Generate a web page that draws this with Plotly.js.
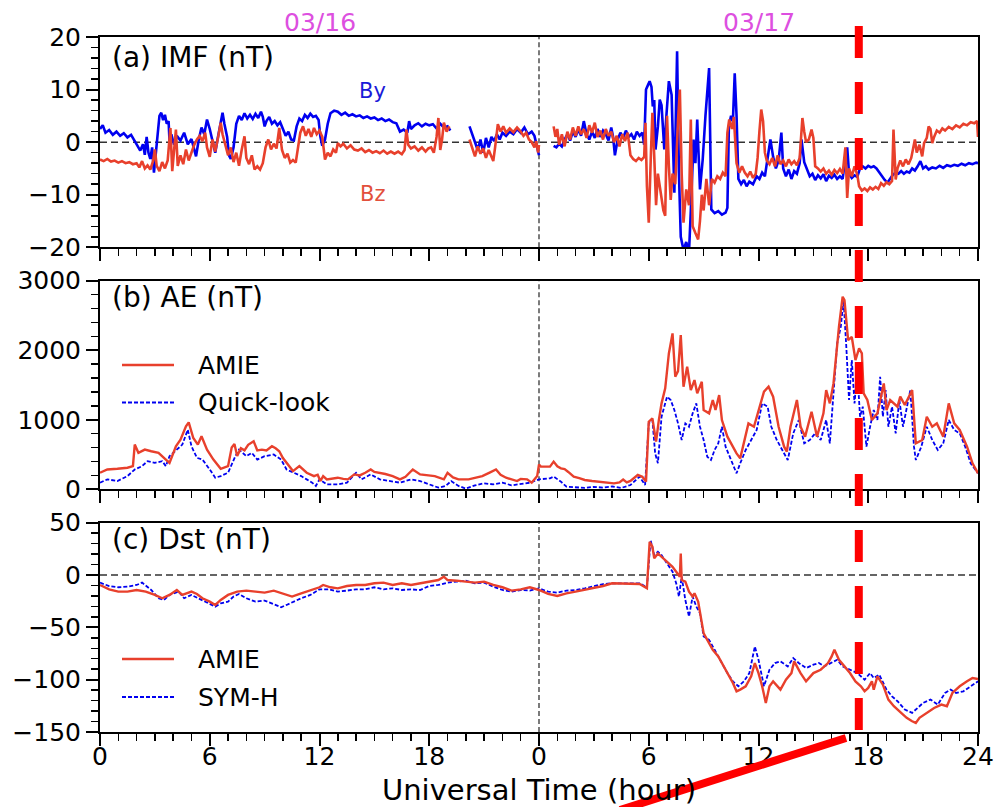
<!DOCTYPE html>
<html>
<head>
<meta charset="utf-8">
<script src="https://cdn.plot.ly/plotly-3.0.1.min.js"></script>
<style>html,body{margin:0;padding:0;background:#fff;}#chart{width:999px;height:807px;}</style>
</head>
<body>
<div id="chart"></div>
<script>
// ---------- tick labels ----------
const xTickVals = [0, 6, 12, 18, 24, 30, 36, 42, 48];
const xTickText = ['0', '6', '12', '18', '0', '6', '12', '18', '24'];
const dayLabels = ['03/16', '03/17'];
const dayLabelHours = [12, 36];

// ---------- (a) IMF By (hours from 03/16 00 UT) ----------
const byT = [0,0.15,0.3,0.5,0.7,0.9,1.1,1.3,1.5,1.7,1.9,2.05,2.2,2.35,2.45,2.55,2.65,2.75,2.85,2.95,3.05,3.15,3.25,3.35,3.45,3.55,3.65,3.75,3.8,3.9,4.05,4.2,4.4,4.6,4.8,5.0,5.15,5.25,5.4,5.55,5.7,5.85,6.0,6.15,6.3,6.45,6.6,6.7,6.8,6.95,7.05,7.15,7.3,7.45,7.6,7.75,7.9,8.05,8.2,8.35,8.5,8.65,8.8,8.9,9.0,9.1,9.25,9.4,9.55,9.7,9.85,10.0,10.15,10.3,10.45,10.6,10.75,10.9,11.05,11.2,11.35,11.5,11.65,11.8,11.95,12.05,12.15,12.3,12.45,12.6,12.8,13.0,13.2,13.4,13.6,13.8,14.0,14.2,14.4,14.6,14.8,15.0,15.2,15.4,15.6,15.8,16.0,16.2,16.4,16.6,16.8,16.9,17.0,17.2,17.4,17.6,17.8,18.0,18.2,18.4,18.6,18.8,19.0,19.15,19.6,
 20.2,20.35,20.5,20.65,20.8,20.95,21.1,21.25,21.4,21.55,21.7,21.85,22.0,22.2,22.4,22.6,22.8,23.0,23.2,23.4,23.6,23.75,23.9,24.0,24.4,
 24.8,24.95,25.1,25.25,25.4,25.55,25.7,25.85,26.0,26.15,26.3,26.45,26.6,26.75,26.9,27.05,27.2,27.35,27.5,27.65,27.8,27.95,28.05,28.15,28.3,28.45,28.6,28.75,28.9,29.05,29.2,29.35,29.5,29.65,29.75,29.85,29.95,30.05,30.15,30.22,30.3,30.37,30.5,30.6,30.7,30.85,30.95,31.1,31.25,31.4,31.55,31.65,31.75,31.9,32.05,32.2,32.3,32.45,32.55,32.65,32.8,32.95,33.1,33.3,33.42,33.6,33.8,34.0,34.2,34.3,34.38,34.5,34.6,34.7,34.8,34.9,35.05,35.2,35.35,35.5,35.7,35.9,36.05,36.2,36.35,36.5,36.65,36.8,36.95,37.1,37.25,37.35,37.5,37.65,37.8,37.95,38.1,38.25,38.35,38.5,38.65,38.8,38.95,39.1,39.25,39.4,39.55,39.7,39.85,40.0,40.15,40.3,40.45,40.6,40.75,40.85,40.95,41.1,41.25,41.4,41.55,41.7,41.85,42.0,42.15,42.3,42.45,42.6,42.75,42.9,43.05,43.2,43.35,43.5,43.65,43.8,43.95,44.1,44.25,44.4,44.55,44.7,44.85,45.0,45.15,45.3,45.5,45.7,45.9,46.1,46.3,46.5,46.7,46.9,47.1,47.3,47.5,47.7,47.9,48.0];
const byV = [2.5,3.2,1.8,2.3,1.4,2.0,1.2,1.7,0.9,1.4,0.2,-0.6,-1.6,-0.4,-2.4,1.0,-2.0,-3.2,-1.0,-5.8,-2.5,2.0,5.0,5.6,4.2,5.2,3.5,4.0,0.2,1.5,-0.5,1.2,0.3,1.8,-0.4,0.6,-1.5,-2.7,0.5,2.8,1.5,4.3,2.5,0.0,-2.0,1.0,4.0,5.6,3.5,1.0,-2.5,-3.2,-1.0,3.5,5.0,4.2,5.5,4.5,5.2,4.4,5.4,4.6,5.8,4.8,3.0,4.0,4.8,3.5,4.0,3.2,3.8,2.5,1.2,2.0,0.5,0.3,3.0,4.5,4.0,5.2,4.6,5.4,4.8,5.0,4.2,1.0,-0.7,0.5,3.5,5.5,6.0,5.8,5.2,5.6,5.0,5.3,4.9,5.1,4.6,4.9,4.5,4.7,4.2,4.5,4.0,4.3,3.8,3.6,2.0,2.4,1.8,4.0,2.5,3.2,3.6,3.0,3.5,3.2,3.4,2.6,3.5,2.8,3.0,2.2,null,
 3.0,1.5,0.0,-1.5,0.5,-2.0,0.8,-1.0,1.0,0.2,1.5,0.5,1.8,1.2,2.0,1.5,2.5,1.8,2.8,1.5,2.0,1.2,-1.0,-2.5,null,
 -0.7,-1.0,-0.3,-0.8,0.5,1.5,0.3,2.0,1.0,2.4,1.2,4.0,1.5,0.5,2.0,0.8,2.5,1.0,2.2,1.5,0.3,2.8,1.0,-2.5,0.5,1.8,0.8,2.2,1.0,1.5,0.5,2.0,1.2,1.8,-0.5,10.0,10.8,11.6,10.5,6.8,8.0,-1.4,3.0,8.1,7.0,-1.4,4.3,11.6,9.0,-9.6,17.3,-5.9,-18,-20.5,-19,-21,-13,0.5,-4,4.3,-9,-3.3,5,14.1,-12.8,-13.5,-13.1,-13.8,-13.4,-12.5,3.0,5.0,4.0,13.1,5.0,-7.0,-8.0,-7.2,-8.4,-7.5,-8.0,-6.5,-7.0,-5.8,-6.5,-3.0,0.5,-2.8,-5.0,-3.5,1.8,-5.0,-6.5,-5.2,-7.0,-5.5,-6.0,-4.0,0.5,-3.8,-5.0,-6.5,-6.0,-7.2,-6.3,-6.9,-6.1,-7.4,-6.4,-6.8,-6.2,-7.0,-6.5,-7.0,-3.0,-1.0,-6.0,-6.8,-6.3,-6.6,-5.0,-4.6,-5.0,-4.5,-4.8,-4.6,-5.0,-5.8,-6.5,-7.2,-7.7,-7.0,-6.2,-5.8,-6.0,-5.5,-6.0,-5.6,-5.8,-5.0,-5.4,-4.6,-3.6,-5.0,-4.6,-5.2,-4.8,-5.0,-4.5,-4.9,-4.4,-4.6,-4.3,-4.5,-4.1,-4.4,-4.0,-4.2,-3.9,-4.0];

// ---------- (a) IMF Bz ----------
const bzT = [0,0.2,0.4,0.6,0.8,1.0,1.2,1.4,1.6,1.8,2.0,2.15,2.3,2.45,2.6,2.75,2.9,3.0,3.1,3.25,3.4,3.55,3.7,3.85,3.95,4.05,4.15,4.25,4.4,4.55,4.7,4.85,5.0,5.15,5.3,5.45,5.6,5.75,5.85,6.0,6.15,6.3,6.45,6.6,6.7,6.85,7.0,7.15,7.3,7.45,7.6,7.75,7.9,8.0,8.15,8.3,8.45,8.6,8.75,8.9,9.05,9.2,9.35,9.5,9.65,9.8,9.95,10.1,10.25,10.4,10.55,10.7,10.85,10.95,11.1,11.25,11.4,11.55,11.7,11.85,12.0,12.15,12.3,12.45,12.6,12.75,12.9,13.0,13.15,13.3,13.5,13.7,13.9,14.1,14.3,14.5,14.7,14.9,15.1,15.3,15.5,15.7,15.9,16.1,16.3,16.5,16.65,16.75,16.85,17.0,17.2,17.4,17.6,17.8,17.95,18.1,18.25,18.4,18.5,18.6,18.7,18.8,18.95,19.1,19.6,
 20.2,20.35,20.5,20.65,20.8,20.95,21.1,21.25,21.4,21.5,21.6,21.75,21.9,22.05,22.2,22.4,22.6,22.8,23.0,23.15,23.3,23.45,23.6,23.75,23.85,23.95,24.0,24.4,
 24.8,24.9,25.0,25.1,25.25,25.4,25.55,25.7,25.85,26.0,26.15,26.3,26.45,26.6,26.75,26.9,27.05,27.2,27.35,27.5,27.65,27.8,27.95,28.1,28.25,28.4,28.55,28.7,28.85,29.0,29.15,29.3,29.45,29.6,29.75,29.82,29.9,30.0,30.12,30.2,30.3,30.4,30.5,30.6,30.7,30.8,30.9,31.0,31.1,31.2,31.3,31.45,31.6,31.7,31.8,31.9,32.05,32.2,32.3,32.4,32.55,32.7,32.8,32.9,33.0,33.15,33.3,33.45,33.6,33.75,33.9,34.05,34.2,34.3,34.4,34.55,34.65,34.8,34.95,35.1,35.25,35.4,35.55,35.7,35.85,35.95,36.05,36.15,36.25,36.35,36.45,36.6,36.75,36.9,37.05,37.2,37.35,37.5,37.65,37.8,37.95,38.1,38.25,38.4,38.5,38.6,38.75,38.9,39.0,39.1,39.25,39.4,39.55,39.7,39.85,40.0,40.15,40.3,40.45,40.6,40.75,40.85,40.95,41.1,41.25,41.4,41.5,41.65,41.8,41.95,42.1,42.25,42.4,42.55,42.7,42.85,43.0,43.15,43.3,43.38,43.5,43.6,43.75,43.9,44.05,44.2,44.35,44.45,44.55,44.65,44.8,44.95,45.05,45.2,45.3,45.4,45.5,45.6,45.75,45.9,46.05,46.2,46.4,46.6,46.8,47.0,47.2,47.4,47.6,47.8,47.95,48.0];
const bzV = [-3.3,-3.6,-3.2,-3.7,-3.5,-3.9,-3.6,-4.0,-3.8,-4.2,-4.0,-4.8,-3.6,-5.0,-4.4,-5.2,-3.6,-1.4,-4.5,-5.5,-3.8,-5.0,-3.5,2.7,-5.5,-1.0,2.4,-4.5,-2.5,-4.2,-1.4,-3.5,-2.0,-0.5,0.5,1.2,0.2,1.8,-1.0,-2.8,0.5,-1.8,0.8,3.7,1.5,-0.5,-2.5,-1.0,-3.8,-2.0,-4.5,-1.4,1.1,-3.0,-4.2,-2.5,-5.2,-4.6,-5.2,-4.0,-1.0,0.5,-1.4,-0.3,-1.2,2.7,-1.5,-3.0,-2.2,-3.9,-3.4,-3.9,-0.5,1.8,3.0,1.2,2.5,1.0,2.7,1.5,2.2,1.0,-3.3,-2.0,-2.7,-1.4,-2.0,-0.2,-0.8,-0.3,-1.2,-0.6,-1.4,-1.6,-1.2,-1.9,-1.5,-2.0,-1.7,-2.1,-1.6,-2.2,-1.8,-2.2,-1.8,-2.3,-1.5,2.4,-0.5,-1.2,-0.8,-1.6,-1.0,-1.8,-1.2,-1.0,-2.0,1.0,4.6,-1.5,0.5,3.7,2.0,3.0,null,
 0.5,-1.0,-2.7,-0.8,-2.2,-1.2,-3.0,-1.5,-2.6,-3.6,-1.0,3.4,2.0,3.0,1.8,2.6,1.9,2.8,2.0,1.2,1.8,0.5,0.0,-1.0,0.2,-2.0,-0.5,null,
 3.0,1.0,2.5,-0.5,1.5,-0.8,2.0,0.5,2.8,1.2,3.0,1.5,2.5,0.8,3.2,1.8,3.7,1.0,2.2,0.5,2.5,1.2,2.0,0.0,1.2,-0.8,1.5,0.2,1.8,-2.5,-3.2,-3.6,-3.0,-3.4,-2.8,3.7,-8.4,-15.3,-2.0,5.6,-2.7,-12.0,-6.0,-8.4,-10.0,-13.0,-14.0,5.0,-4.6,-11.0,-6.0,-8.0,4.0,10.0,-6.0,-15.3,-9.0,-12.0,4.3,-16.0,-17.3,-18.5,-15.0,-10.0,-13.0,-7.0,-12.0,-7.0,-7.7,-6.5,-7.0,-5.8,-6.5,1.8,4.3,2.5,4.8,-4.0,-5.8,-4.6,-5.8,-6.5,-5.6,-6.8,-6.0,-3.0,2.0,6.2,4.0,-2.0,-3.5,-4.2,-3.0,-4.6,-2.5,-4.2,-3.5,-4.6,-3.3,-4.2,-3.6,-4.4,-3.0,4.6,2.0,0.0,0.5,2.4,0.8,-4.6,-5.0,-5.6,-5.0,-6.0,-5.4,-6.2,-5.3,-5.9,-5.1,-6.0,-1.0,-10.6,-5.0,-6.5,-4.6,-6.2,-8.4,-9.2,-8.8,-9.3,-8.6,-9.0,-8.5,-8.9,-7.8,-8.3,-7.6,-8.0,-7.4,2.4,-7.1,-5.0,-3.5,-4.6,-3.3,-4.2,-3.0,-1.0,0.5,-2.0,-0.5,-2.7,-0.2,0.8,3.0,2.5,-0.2,1.0,2.2,1.8,2.6,2.2,2.9,2.5,3.2,2.8,3.5,3.2,3.8,3.6,4.0,1.0];

// ---------- (b) AE: AMIE ----------
const aeAmieT = [0,0.4,0.95,1.5,1.8,1.9,2.1,2.45,2.8,3.2,3.6,3.8,4.15,4.4,4.7,4.85,5.1,5.35,5.55,5.85,6.2,6.6,7.0,7.2,7.35,7.5,7.7,7.9,8.1,8.4,8.6,8.85,9.1,9.4,9.6,9.8,10.0,10.2,10.55,10.9,11.1,11.3,11.7,11.9,12.05,12.2,12.4,12.7,13.0,13.3,13.55,13.9,14.2,14.5,14.8,15.0,15.25,15.6,16.0,16.4,16.7,16.95,17.1,17.5,17.9,18.3,18.8,19.0,19.3,19.6,20.15,20.5,20.9,21.3,21.65,21.9,22.2,22.8,23.0,23.35,23.6,23.9,24.0,24.1,24.4,24.6,24.8,25.0,25.2,25.4,25.6,25.9,26.2,26.5,26.9,27.2,27.6,28.1,28.4,28.6,28.8,29.0,29.4,29.65,29.85,30.0,30.2,30.4,30.55,30.7,30.9,31.1,31.3,31.45,31.6,31.75,31.9,32.1,32.3,32.5,32.65,32.9,33.0,33.3,33.5,33.65,33.85,34.0,34.3,34.55,34.8,35.0,35.2,35.45,35.75,36.1,36.3,36.55,36.8,37.1,37.4,37.55,37.75,38.1,38.3,38.55,38.9,39.2,39.55,39.7,39.9,40.1,40.4,40.6,40.7,40.9,41.1,41.3,41.5,41.65,41.75,41.95,42.2,42.5,42.7,42.85,43.0,43.2,43.6,43.75,44.0,44.4,44.6,44.95,45.2,45.5,45.75,46.1,46.4,46.7,47.0,47.4,47.7,48.0];
const aeAmie = [238,285,295,310,333,643,524,571,547,524,428,380,619,714,905,962,738,643,762,571,428,295,333,600,650,480,590,560,640,690,560,571,560,619,590,547,450,380,262,333,280,238,190,210,119,190,143,160,167,150,143,214,200,238,285,250,238,220,190,143,180,238,285,214,200,190,143,238,170,143,143,170,190,240,285,210,167,119,150,143,95,190,357,326,320,326,398,330,302,290,250,182,160,134,120,110,100,86,100,140,100,120,206,180,110,972,1020,685,990,1236,1451,1954,2242,1619,1700,2218,1475,1763,1427,1571,1380,1547,1140,1092,1284,1140,1356,996,757,637,517,445,660,948,900,1236,1404,1475,1332,900,613,541,900,1284,900,757,1116,757,1092,1427,1236,1523,2338,2769,2721,2146,2190,1859,2026,1954,1380,1284,996,1092,1332,1523,1140,1284,1188,1332,1212,1427,661,709,1044,900,948,757,1236,948,853,613,374,230];

// ---------- (b) AE: Quick-look ----------
const aeQlT = [0,0.4,0.95,1.5,1.9,2.3,2.6,3.0,3.4,3.6,3.8,4.1,4.5,4.8,5.0,5.3,5.6,6.0,6.3,6.6,7.0,7.4,7.6,8.0,8.3,8.6,9.0,9.5,9.9,10.2,10.6,11.0,11.3,11.6,11.8,12.0,12.4,13.0,13.5,14.0,14.3,14.8,15.3,16.0,16.4,17.0,17.5,18.0,18.5,18.9,19.2,19.6,20.0,20.5,21.0,21.5,22.0,22.5,23.0,23.5,24.0,24.3,24.6,24.8,25.2,25.5,26.0,26.5,27.0,27.5,28.0,28.5,29.0,29.5,29.8,30.0,30.2,30.35,30.5,30.7,30.9,31.0,31.2,31.4,31.6,31.8,32.0,32.2,32.4,32.6,32.8,33.0,33.2,33.4,33.6,33.8,34.0,34.2,34.5,34.8,35.0,35.3,35.6,35.9,36.2,36.5,36.7,37.0,37.3,37.6,37.9,38.2,38.5,38.8,39.1,39.4,39.7,39.9,40.1,40.3,40.5,40.65,40.8,40.95,41.1,41.25,41.4,41.55,41.7,41.9,42.1,42.3,42.5,42.65,42.8,42.95,43.1,43.3,43.5,43.7,43.9,44.1,44.3,44.5,44.6,44.9,45.2,45.5,45.8,46.1,46.4,46.7,47.0,47.3,47.6,48.0];
const aeQl = [95,143,119,190,285,333,405,380,405,333,476,547,643,857,619,452,428,285,167,190,238,476,571,476,524,428,476,500,428,285,238,190,143,95,48,143,71,71,95,238,143,214,143,119,95,143,119,71,24,48,119,48,10,57,86,71,95,57,71,95,143,150,158,182,110,38,30,20,35,25,40,20,62,182,62,948,996,517,374,1044,1236,1332,1284,1140,948,709,948,900,1092,1236,900,709,469,421,565,661,900,613,421,230,374,565,709,853,1236,1188,900,709,565,421,805,996,661,709,805,709,996,661,1380,2098,2338,2721,2050,1284,1859,1236,1715,1044,1188,613,900,1140,996,1619,1044,1427,900,1188,805,1284,900,1140,1427,613,421,613,900,709,565,661,996,853,805,613,374,230];

// ---------- (c) Dst: AMIE ----------
const dstAmieT = [0,0.5,1.0,1.5,2.0,2.5,3.0,3.4,3.8,4.2,4.5,5.0,5.3,5.6,6.0,6.3,6.6,7.0,7.5,8.0,8.5,9.0,9.5,10.0,10.5,11.0,11.5,12.0,12.2,12.6,13.0,13.5,14.0,14.5,15.0,15.5,16.0,16.5,17.0,17.5,18.0,18.5,18.8,19.0,19.5,20.0,20.5,21.0,21.5,22.0,22.5,23.0,23.5,24.0,24.5,25.0,25.5,26.0,26.5,27.0,27.5,28.0,28.5,29.0,29.5,29.9,30.05,30.2,30.3,30.5,30.7,31.0,31.3,31.5,31.7,31.75,31.8,32.0,32.2,32.4,32.5,32.7,32.8,33.0,33.2,33.5,33.8,34.0,34.3,34.6,34.8,35.0,35.3,35.6,35.8,36.0,36.2,36.4,36.6,36.8,37.2,37.5,37.8,37.95,38.3,38.6,39.0,39.4,39.8,40.0,40.15,40.4,40.7,41.0,41.3,41.6,41.8,42.0,42.2,42.3,42.5,42.8,43.1,43.4,43.8,44.1,44.4,44.6,44.8,45.2,45.6,46.0,46.3,46.6,47.0,47.4,47.7,48.0];
const dstAmie = [-9.5,-13.7,-15.9,-15.9,-14.3,-15.9,-19.0,-22.2,-19.0,-14.3,-19.0,-15.9,-18.1,-22.2,-25.4,-28.6,-23.8,-19.0,-15.9,-14.9,-15.9,-16.8,-14.9,-18.1,-20.6,-17.5,-14.3,-11.7,-9.5,-11.7,-12.7,-10.5,-9.5,-9.5,-7.9,-7.3,-9.5,-7.9,-9.5,-7.9,-6.3,-4.8,-1.6,-4.8,-5.4,-6.3,-7.3,-6.3,-9.5,-11.7,-14.9,-13.7,-11.7,-14.3,-18.1,-20.0,-17.5,-15.9,-14.3,-12.7,-10.5,-7.9,-7.9,-7.9,-8.6,-12.7,31.7,27.0,15.9,20.6,17.5,12.7,7.9,3.2,-1.6,20.6,-4.8,-6.3,-15.9,-20.6,-17.5,-25.4,-36.5,-55.6,-61.9,-71.4,-77.8,-84.1,-93.7,-103.2,-111.1,-109.5,-106.3,-96.8,-84.1,-93.7,-106.3,-122.2,-106.3,-101.6,-109.5,-100.0,-93.7,-82.5,-93.7,-101.6,-93.7,-90.5,-84.1,-77.8,-71.4,-81.0,-87.3,-93.7,-101.6,-106.3,-111.1,-107.9,-101.6,-109.5,-96.8,-104.8,-119.0,-125.4,-131.7,-136.5,-139.7,-141.3,-136.5,-131.7,-127.0,-123.8,-125.4,-112.7,-106.3,-101.6,-98.4,-99.4];

// ---------- (c) Dst: SYM-H ----------
const symhT = [0,0.5,1.0,1.5,2.0,2.3,2.8,3.2,3.5,3.8,4.3,4.6,5.0,5.5,6.0,6.3,6.6,7.0,7.3,7.6,8.0,8.5,9.0,9.5,9.9,10.2,10.6,11.0,11.5,12.0,12.5,13.0,13.5,14.0,14.5,15.0,15.5,16.0,16.5,17.0,17.5,18.0,18.5,19.0,19.5,20.0,20.5,21.0,21.5,22.0,22.5,23.0,23.5,24.0,24.5,25.0,25.5,26.0,26.5,27.0,27.5,28.0,28.5,29.0,29.5,29.9,30.1,30.3,30.5,30.7,31.0,31.3,31.5,31.65,31.8,32.0,32.2,32.4,32.6,32.8,33.0,33.3,33.6,34.0,34.3,34.6,34.9,35.2,35.5,35.8,36.0,36.3,36.6,36.9,37.2,37.6,37.9,38.2,38.6,39.0,39.3,39.6,40.0,40.3,40.6,41.0,41.4,41.8,42.1,42.3,42.6,43.0,43.3,43.6,44.0,44.4,44.7,45.0,45.4,45.8,46.2,46.5,46.8,47.2,47.6,48.0];
const symh = [-7.3,-10.5,-11.7,-11.1,-9.5,-7.3,-14.3,-22.2,-23.8,-19.0,-15.9,-22.2,-19.0,-23.2,-27.0,-30.2,-27.0,-25.4,-20.6,-18.1,-22.2,-25.4,-24.4,-27.6,-30.8,-28.6,-25.4,-22.2,-19.0,-13.7,-13.7,-15.9,-14.9,-13.7,-13.7,-11.7,-13.7,-12.7,-14.3,-13.7,-14.3,-10.5,-9.5,-7.3,-6.3,-5.4,-7.9,-7.3,-11.1,-14.3,-15.9,-14.3,-14.9,-12.7,-15.9,-16.8,-14.9,-14.3,-12.7,-10.5,-8.6,-7.9,-7.9,-7.3,-7.9,-11.7,33.3,19.0,22.2,19.0,11.1,3.2,-7.9,-20.6,-1.6,-23.8,-39.7,-20.6,-30.2,-36.5,-58.7,-61.9,-71.4,-84.1,-93.7,-101.6,-106.3,-101.6,-93.7,-68.3,-81.0,-106.3,-90.5,-84.1,-82.5,-87.3,-79.4,-84.1,-88.9,-85.7,-84.1,-87.3,-84.1,-81.0,-87.3,-90.5,-93.7,-100.0,-93.7,-98.4,-95.2,-109.5,-115.9,-120.6,-128.6,-131.7,-127.0,-122.2,-119.0,-123.8,-112.7,-109.5,-112.7,-111.1,-106.3,-101.6];

// ---------- styling ----------
const FONT = 'DejaVu Sans, Liberation Sans, sans-serif';
const RED = '#e8402c';
const BLUE = '#0000f0';

function xAxis(anchor, labels) {
  return {
    anchor: anchor, domain: [0, 1], range: [0, 48],
    tickmode: 'array', tickvals: xTickVals, ticktext: xTickText,
    showticklabels: labels, ticks: 'outside', ticklen: 12, tickwidth: 2, tickcolor: '#000',
    showline: true, linewidth: 2, linecolor: '#000', mirror: true,
    showgrid: false, zeroline: false, automargin: false,
    tickfont: {family: FONT, size: 25, color: '#000'},
    minor: {tick0: 0, dtick: 1, ticks: 'outside', ticklen: 7, tickwidth: 1.5, tickcolor: '#000', showgrid: false}
  };
}
function yAxis(anchor, domain, range, dtick, minor) {
  return {
    anchor: anchor, domain: domain, range: range,
    tick0: 0, dtick: dtick, ticks: 'outside', ticklen: 12, tickwidth: 2, tickcolor: '#000',
    showline: true, linewidth: 2, linecolor: '#000', mirror: true,
    showgrid: false, zeroline: false, automargin: false,
    tickfont: {family: FONT, size: 25, color: '#000'},
    minor: {tick0: 0, dtick: minor, ticks: 'outside', ticklen: 7, tickwidth: 1.5, tickcolor: '#000', showgrid: false}
  };
}

const traces = [
  {x: byT, y: byV, xaxis: 'x3', yaxis: 'y3', mode: 'lines', name: 'By', line: {color: BLUE, width: 2.6}, connectgaps: false},
  {x: bzT, y: bzV, xaxis: 'x3', yaxis: 'y3', mode: 'lines', name: 'Bz', line: {color: RED, width: 2.6}, connectgaps: false},
  {x: aeQlT, y: aeQl, xaxis: 'x2', yaxis: 'y2', mode: 'lines', name: 'Quick-look', line: {color: BLUE, width: 1.8, dash: '4px,2px'}},
  {x: aeAmieT, y: aeAmie, xaxis: 'x2', yaxis: 'y2', mode: 'lines', name: 'AMIE', line: {color: RED, width: 2.4}},
  {x: symhT, y: symh, xaxis: 'x', yaxis: 'y', mode: 'lines', name: 'SYM-H', line: {color: BLUE, width: 1.8, dash: '4px,2px'}},
  {x: dstAmieT, y: dstAmie, xaxis: 'x', yaxis: 'y', mode: 'lines', name: 'AMIE', line: {color: RED, width: 2.4}}
];

const H = 695, T = 37; // plot-area height and top margin (px)
function py(pix) { return (T + H - pix) / H; }      // pixel row -> paper y
function px(pix) { return (pix - 100) / 878; }      // pixel col -> paper x

const shapes = [
  {type: 'line', xref: 'x3', yref: 'y3', x0: 0, x1: 48, y0: 0, y1: 0, layer: 'below', line: {color: '#333', width: 1.5, dash: '7px,4px'}},
  {type: 'line', xref: 'x', yref: 'y', x0: 0, x1: 48, y0: 0, y1: 0, layer: 'below', line: {color: '#333', width: 1.5, dash: '7px,4px'}},
  {type: 'line', xref: 'x3', yref: 'y3', x0: 24, x1: 24, y0: -20, y1: 20, layer: 'below', line: {color: '#222', width: 1.2, dash: '5px,3px'}},
  {type: 'line', xref: 'x2', yref: 'y2', x0: 24, x1: 24, y0: 0, y1: 3000, layer: 'below', line: {color: '#222', width: 1.2, dash: '5px,3px'}},
  {type: 'line', xref: 'x', yref: 'y', x0: 24, x1: 24, y0: -150, y1: 50, layer: 'below', line: {color: '#222', width: 1.2, dash: '5px,3px'}},
  {type: 'line', xref: 'paper', yref: 'paper', x0: px(122), x1: px(174), y0: py(365), y1: py(365), line: {color: RED, width: 2.4}},
  {type: 'line', xref: 'paper', yref: 'paper', x0: px(122), x1: px(174), y0: py(402.5), y1: py(402.5), line: {color: BLUE, width: 1.8, dash: '4px,2px'}},
  {type: 'line', xref: 'paper', yref: 'paper', x0: px(122), x1: px(174), y0: py(659), y1: py(659), line: {color: RED, width: 2.4}},
  {type: 'line', xref: 'paper', yref: 'paper', x0: px(122), x1: px(174), y0: py(697), y1: py(697), line: {color: BLUE, width: 1.8, dash: '4px,2px'}},
  {type: 'line', xref: 'paper', yref: 'paper', x0: px(858.8), x1: px(858.8), y0: py(26), y1: py(730), layer: 'above', line: {color: '#ff0000', width: 8, dash: '32px,24px'}},
  {type: 'line', xref: 'paper', yref: 'paper', x0: px(620), y0: py(810), x1: px(846), y1: py(738), layer: 'above', line: {color: '#ff0000', width: 8}}
];

function ann(text, x, y, size, color, xanchor, xref, yref) {
  return {text: text, x: x, y: y, xref: xref || 'paper', yref: yref || 'paper', showarrow: false,
          xanchor: xanchor || 'left', yanchor: 'middle', font: {family: FONT, size: size, color: color || '#000'}};
}

const annotations = [
  ann('(a) IMF (nT)', px(110), py(57), 28),
  ann('(b) AE (nT)', px(110), py(297.5), 28),
  ann('(c) Dst (nT)', px(110), py(539), 28),
  ann(dayLabels[0], dayLabelHours[0], py(22.5), 25, '#dd4fe0', 'center', 'x3', 'paper'),
  ann(dayLabels[1], dayLabelHours[1], py(22.5), 25, '#dd4fe0', 'center', 'x3', 'paper'),
  ann('By', 14.9, 9.8, 21, '#1a1ad8', 'center', 'x3', 'y3'),
  ann('Bz', 14.9, -9.9, 21, '#e2503c', 'center', 'x3', 'y3'),
  ann('AMIE', px(196), py(365), 25),
  ann('Quick-look', px(196), py(402.5), 25),
  ann('AMIE', px(196), py(659), 25),
  ann('SYM-H', px(196), py(697), 25)
];

const xa = xAxis('y', true);
xa.ticklabelstandoff = -11;
xa.title = {text: 'Universal Time (hour)', font: {family: FONT, size: 29, color: '#000'}, standoff: 14};

const layout = {
  width: 999, height: 807,
  margin: {l: 100, r: 21, t: T, b: 75, pad: 0},
  paper_bgcolor: '#fff', plot_bgcolor: '#fff',
  font: {family: FONT, size: 25, color: '#000'},
  showlegend: false,
  xaxis: xa,
  yaxis: yAxis('x', [0, py(522.7)], [-150, 50], 50, 10),
  xaxis2: xAxis('y2', false),
  yaxis2: yAxis('x2', [py(489.3), py(280.7)], [0, 3000], 1000, 200),
  xaxis3: xAxis('y3', false),
  yaxis3: yAxis('x3', [py(247.3), 1], [-20, 20], 10, 2),
  shapes: shapes,
  annotations: annotations
};

Plotly.newPlot('chart', traces, layout, {displayModeBar: false, staticPlot: true});
</script>
</body>
</html>
